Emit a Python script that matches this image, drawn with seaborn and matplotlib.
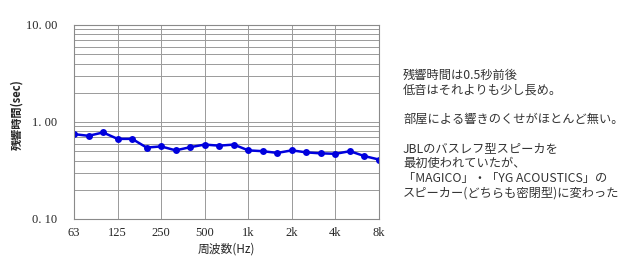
import matplotlib
matplotlib.use("Agg")
import matplotlib.pyplot as plt
from matplotlib.ticker import FixedLocator, NullFormatter
import seaborn as sns
import pandas as pd
import numpy as np

freqs = ["63", "80", "100", "125", "160", "200", "250", "315", "400", "500", "630",
         "800", "1k", "1.25k", "1.6k", "2k", "2.5k", "3.15k", "4k", "5k", "6.3k", "8k"]
rt60 = [0.75, 0.72, 0.78, 0.67, 0.67, 0.545, 0.56, 0.51, 0.55, 0.585, 0.57,
        0.585, 0.51, 0.50, 0.48, 0.51, 0.486, 0.475, 0.47, 0.50, 0.445, 0.41]
xtick_labels = ["63", "125", "250", "500", "1k", "2k", "4k", "8k"]
ytick_labels = ["0. 10", "1. 00", "10. 00"]
note_lines = ["残響時間は0.5秒前後", "低音はそれよりも少し長め。", "",
              "部屋による響きのくせがほとんど無い。", "",
              "JBLのバスレフ型スピーカを", "最初使われていたが、",
              "「MAGICO」・「YG ACOUSTICS」の", "スピーカー(どちらも密閉型)に変わった"]

sns.set_theme(style="white")
plt.rcParams['font.family'] = ['Noto Sans CJK JP', 'DejaVu Sans']

df = pd.DataFrame({"pos": np.arange(len(freqs)), "rt": rt60})

fig = plt.figure(figsize=(6.4, 2.65), dpi=100)
ax = fig.add_axes([0.1156, 0.1736, 0.4766, 0.7321])
sns.lineplot(data=df, x="pos", y="rt", ax=ax, color="#0000DD", linewidth=1.8,
             marker="o", markersize=5, markeredgewidth=0)
ax.set_yscale("log")
ax.set_ylim(0.1, 10)
ax.set_xlim(0, len(freqs) - 1)

ax.yaxis.set_major_locator(FixedLocator([0.1, 1, 10]))
ax.set_yticklabels(ytick_labels, family=['Liberation Serif'], fontsize=9)
minor = [m * d for d in (0.1, 1) for m in range(2, 10)]
ax.yaxis.set_minor_locator(FixedLocator(minor))
ax.yaxis.set_minor_formatter(NullFormatter())
xt = [freqs.index(l) for l in xtick_labels]
ax.set_xticks(xt)
ax.set_xticklabels(xtick_labels, family=['Liberation Serif'], fontsize=9)
ax.grid(True, which="both", axis="y", color="#9a9a9a", linewidth=0.7)
ax.grid(True, which="major", axis="x", color="#9a9a9a", linewidth=0.7)
ax.tick_params(axis="y", which="both", length=0, pad=12)
ax.tick_params(axis="x", length=0, pad=6)
for s in ax.spines.values():
    s.set_color("#8a8a8a")
    s.set_linewidth(0.8)
ax.set_axisbelow(True)

ax.set_xlabel("周波数(Hz)", fontsize=8.5, labelpad=2)
ax.set_ylabel("残響時間(sec)", fontsize=8, fontweight="bold")
ax.yaxis.set_label_coords(-0.165, 0.54)

y0 = 75
for i, line in enumerate(note_lines):
    fig.text(403 / 640, 1 - (y0 + i * 14.75) / 265, line, fontsize=8.8,
             va="center", ha="left", color="#333333")

fig.savefig("out.png", dpi=100)
